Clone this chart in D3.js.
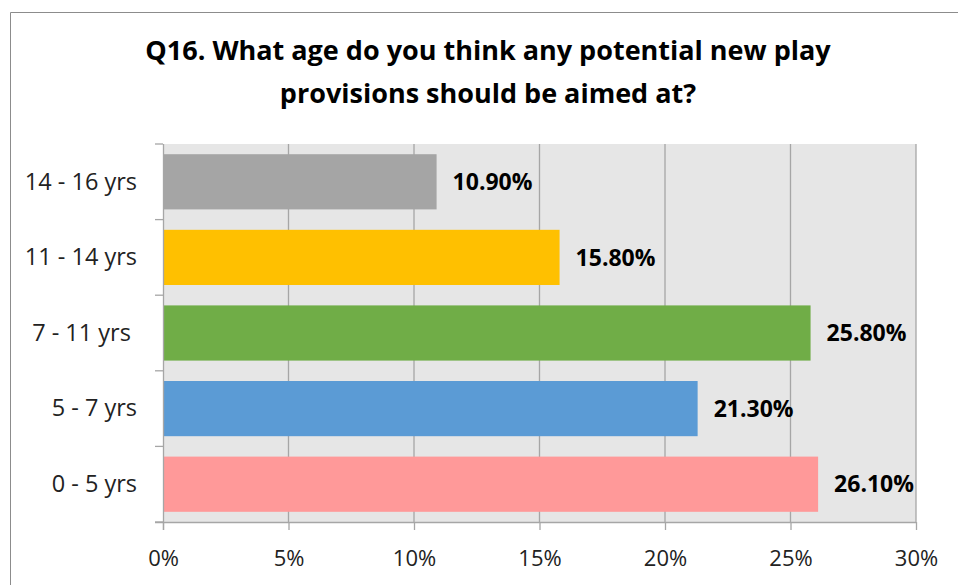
<!DOCTYPE html>
<html><head><meta charset="utf-8">
<script src="https://cdn.jsdelivr.net/npm/d3@7"></script>
<style>
body{margin:0;background:#fff;}
svg text{font-family:"Open Sans","Liberation Sans",sans-serif;}
</style></head>
<body>
<svg id="c" width="958" height="585"></svg>
<script>
const titleLines = ["Q16. What age do you think any potential new play", "provisions should be aimed at?"];
const categories = ["14 - 16 yrs", "11 - 14 yrs", "7 - 11 yrs ", "5 - 7 yrs", "0 - 5 yrs"];
const values = [10.9, 15.8, 25.8, 21.3, 26.1];
const colors = ["#a5a5a5", "#ffc000", "#70ad47", "#5b9bd5", "#ff9999"];
const xTicks = [0, 5, 10, 15, 20, 25, 30];

const svg = d3.select("#c");
// outer frame
svg.append("path").attr("d","M10.5,585 V12.5 H958").attr("fill","none").attr("stroke","#8c8c8c").attr("stroke-width",1);

const L=163, R=916, T=144, B=522;
const x = d3.scaleLinear().domain([0,30]).range([L,R]);
const y = d3.scaleBand().domain(categories).range([T,B]).paddingInner(0.27).paddingOuter(0.135);

svg.append("rect").attr("x",L).attr("y",T).attr("width",R-L).attr("height",B-T).attr("fill","#e6e6e6");

// grid
svg.append("g").selectAll("line").data(xTicks.slice(1)).join("line")
  .attr("x1",d=>x(d)).attr("x2",d=>x(d)).attr("y1",T).attr("y2",B)
  .attr("stroke","#a6a6a6").attr("stroke-width",1.3);

// bars
svg.append("g").selectAll("rect").data(categories).join("rect")
  .attr("x",x(0)).attr("y",d=>y(d)).attr("width",(d,i)=>x(values[i])-x(0)).attr("height",y.bandwidth())
  .attr("fill",(d,i)=>colors[i]);

// value labels
svg.append("g").selectAll("text").data(categories).join("text")
  .attr("x",(d,i)=>x(values[i])+16).attr("y",d=>y(d)+y.bandwidth()/2).attr("dy","0.36em")
  .attr("font-size",23).attr("font-weight","bold").attr("fill","#000")
  .text((d,i)=>values[i].toFixed(2)+"%");

// x axis
const xa = svg.append("g").attr("transform",`translate(0,${B})`)
  .call(d3.axisBottom(x).tickValues(xTicks).tickFormat(d=>d+"%").tickSize(8).tickPadding(20));
xa.select(".domain").attr("stroke","#a6a6a6").attr("stroke-width",1.3).attr("d",`M${L-8},0.5H${R}`);
xa.selectAll(".tick line").attr("stroke","#a6a6a6").attr("stroke-width",1.3);
xa.selectAll("text").attr("font-size",22).attr("fill","#222");

// y axis
const ya = svg.append("g").attr("transform",`translate(${L},0)`)
  .call(d3.axisLeft(y).tickSize(0).tickPadding(26));
ya.select(".domain").attr("stroke","#a6a6a6").attr("stroke-width",1.3).attr("d",`M0.5,${T}V${B+8}`);
ya.selectAll("text").attr("font-size",23.5).attr("fill","#222").attr("dy","0.33em").style("white-space","pre");
// y boundary ticks
const yb = [T, ...categories.slice(1).map(c=>y(c)-y.step()*y.paddingInner()/2), B];
ya.append("g").selectAll("line").data(yb).join("line")
  .attr("x1",-8).attr("x2",0).attr("y1",d=>d).attr("y2",d=>d).attr("stroke","#a6a6a6").attr("stroke-width",1.3);

// title
svg.append("g").selectAll("text").data(titleLines).join("text")
  .attr("x",488).attr("y",(d,i)=>60+i*43).attr("text-anchor","middle")
  .attr("font-size",27).attr("font-weight","bold").attr("fill","#000").text(d=>d);
</script>
</body></html>
